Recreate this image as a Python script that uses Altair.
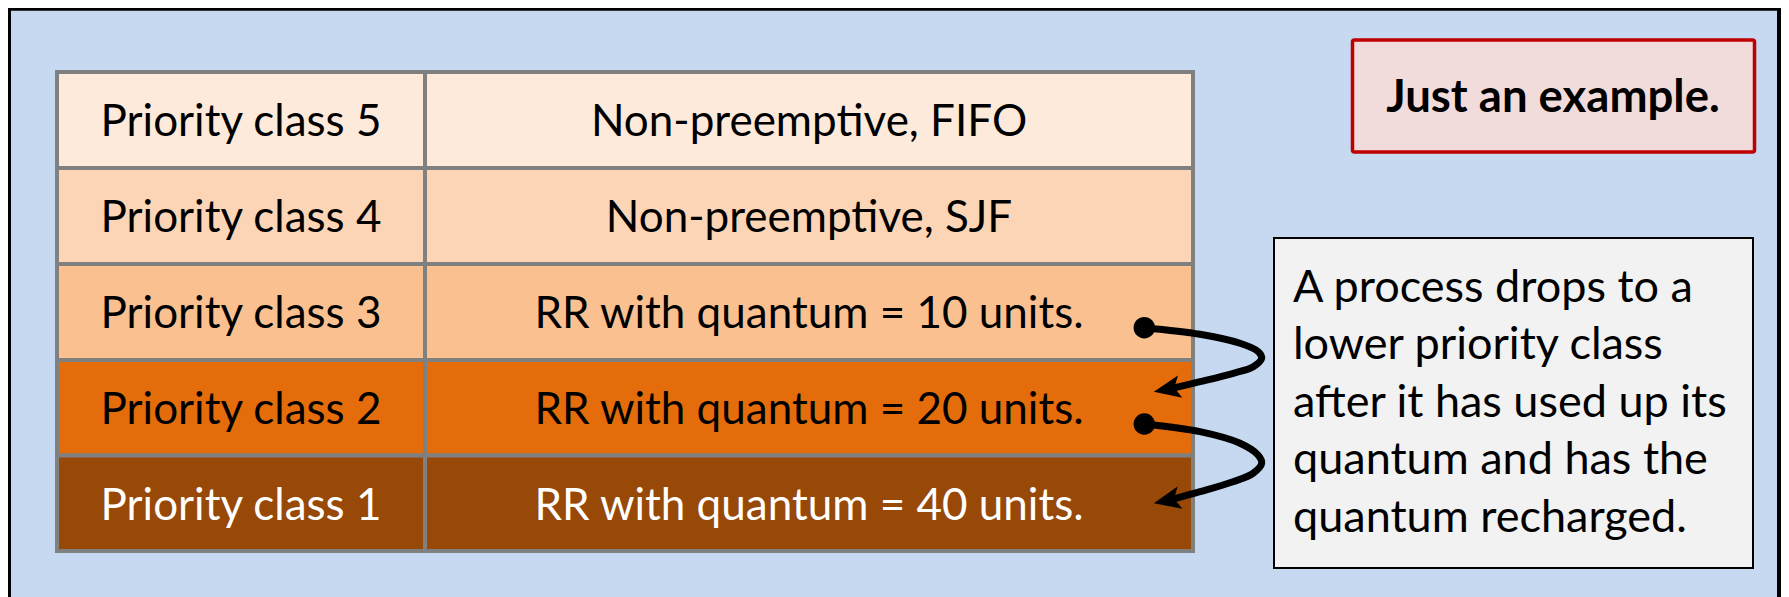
import altair as alt
import pandas as pd

# ---------------- content ----------------
classes = ["Priority class 5", "Priority class 4", "Priority class 3",
           "Priority class 2", "Priority class 1"]
policies = ["Non-preemptive, FIFO", "Non-preemptive, SJF",
            "RR with quantum = 10 units.", "RR with quantum = 20 units.",
            "RR with quantum = 40 units."]
row_fill = ["#FDEADA", "#FBD5B5", "#FAC090", "#E46C0A", "#984807"]
row_ink = ["#000000", "#000000", "#000000", "#000000", "#FFFFFF"]
note_lines = ["A process drops to a", "lower priority class",
              "after it has used up its", "quantum and has the",
              "quantum recharged."]
badge_text = ["Just an example."]

# ---------------- layout (page pixel coordinates) ----------------
row_edges = [72, 168, 264, 360, 455.5, 551]
col_edges = [57, 425, 1193]
row_baselines = [136, 232, 328, 424, 520]
note_baselines = [301.5, 359, 416.5, 474, 531.5]

arrow1_x = [1144.3, 1200, 1240, 1258.3, 1261.7, 1253.3, 1233.3, 1200, 1174]
arrow1_y = [327.7, 334.3, 343.3, 351.7, 358.3, 366.7, 373.3, 381.7, 387.8]
arrow2_x = [1144.3, 1200, 1240, 1258, 1261.7, 1253, 1233, 1200, 1174]
arrow2_y = [424.0, 431.7, 443.3, 455, 463.3, 473.3, 481.7, 491.7, 498.8]
head_x = [1167.0, 1166.9]
head_y = [389.2, 500.4]
head_angle = [349, 347.6]

W, H = 1773, 589
X = alt.Scale(domain=[8, 8 + W], nice=False, zero=False)
Y = alt.Scale(domain=[8, 8 + H], nice=False, zero=False, reverse=True)


def xq(f):
    return alt.X(f, type="quantitative", scale=X, axis=None)


def yq(f):
    return alt.Y(f, type="quantitative", scale=Y, axis=None)


# frame
frame = pd.DataFrame({"x": [9], "x2": [1779], "y": [8.7], "y2": [640]})
frame_l = alt.Chart(frame).mark_rect(
    fill="#C6D9F0", stroke="#000000", strokeWidth=4, clip=True
).encode(x=xq("x"), x2="x2", y=yq("y"), y2="y2")

# table cells
cells = []
for i in range(5):
    for j in range(2):
        cells.append({"x": col_edges[j], "x2": col_edges[j + 1],
                      "y": row_edges[i], "y2": row_edges[i + 1],
                      "fill": row_fill[i]})
cells = pd.DataFrame(cells)
cells_l = alt.Chart(cells).mark_rect(stroke="#808080", strokeWidth=4).encode(
    x=xq("x"), x2="x2", y=yq("y"), y2="y2",
    fill=alt.Fill("fill:N", scale=None))

# table texts
tt = []
for i in range(5):
    tt.append({"x": (col_edges[0] + col_edges[1]) / 2, "y": row_baselines[i],
               "t": classes[i], "c": row_ink[i]})
    tt.append({"x": (col_edges[1] + col_edges[2]) / 2, "y": row_baselines[i],
               "t": policies[i], "c": row_ink[i]})
tt = pd.DataFrame(tt)
text_l = alt.Chart(tt).mark_text(
    font="Lato", fontSize=44, align="center", baseline="alphabetic"
).encode(x=xq("x"), y=yq("y"), text="t:N", color=alt.Color("c:N", scale=None))

# badge
badge = pd.DataFrame({"x": [1352.5], "x2": [1754.5], "y": [40], "y2": [152],
                      "tx": [1553], "ty": [112], "t": badge_text})
badge_box = alt.Chart(badge).mark_rect(
    fill="#F2DCDB", stroke="#C00000", strokeWidth=3.5, cornerRadius=2
).encode(x=xq("x"), x2="x2", y=yq("y"), y2="y2")
badge_txt = alt.Chart(badge).mark_text(
    font="Lato", fontSize=45.5, fontWeight="bold", align="center",
    baseline="alphabetic", color="#000000"
).encode(x=xq("tx"), y=yq("ty"), text="t:N")

# note box
note_box_df = pd.DataFrame({"x": [1274], "x2": [1753], "y": [238], "y2": [568]})
note_box = alt.Chart(note_box_df).mark_rect(
    fill="#F2F2F2", stroke="#000000", strokeWidth=2
).encode(x=xq("x"), x2="x2", y=yq("y"), y2="y2")
note_df = pd.DataFrame({"x": [1293] * 5, "y": note_baselines, "t": note_lines})
note_txt = alt.Chart(note_df).mark_text(
    font="Lato", fontSize=45, align="left", baseline="alphabetic",
    color="#000000"
).encode(x=xq("x"), y=yq("y"), text="t:N")

# arrows
arr = pd.DataFrame({
    "x": arrow1_x + arrow2_x,
    "y": arrow1_y + arrow2_y,
    "k": list(range(len(arrow1_x))) + list(range(len(arrow2_x))),
    "a": ["a1"] * len(arrow1_x) + ["a2"] * len(arrow2_x),
})
lines_l = alt.Chart(arr).mark_line(
    color="#000000", strokeWidth=7, interpolate="catmull-rom",
    strokeCap="round"
).encode(x=xq("x"), y=yq("y"), order="k:Q", detail="a:N")

dots = pd.DataFrame({"x": [arrow1_x[0], arrow2_x[0]],
                     "y": [arrow1_y[0], arrow2_y[0]]})
dots_l = alt.Chart(dots).mark_point(
    shape="circle", filled=True, size=460, color="#000000", opacity=1,
    strokeWidth=0
).encode(x=xq("x"), y=yq("y"))

heads = pd.DataFrame({"x": head_x, "y": head_y, "ang": head_angle})
heads_l = alt.Chart(heads).mark_point(
    shape="M -1 0 L 1 -0.85 L 0.55 0 L 1 0.85 Z", filled=True, size=720,
    color="#000000", opacity=1, strokeWidth=0
).encode(x=xq("x"), y=yq("y"), angle=alt.Angle("ang:Q", scale=None))

chart = alt.layer(
    frame_l, cells_l, text_l, badge_box, badge_txt, note_box, note_txt,
    lines_l, dots_l, heads_l
).properties(
    width=W, height=H, padding=0, background="#FFFFFF",
    autosize=alt.AutoSizeParams(type="none")
).configure_view(strokeWidth=0)

chart.save("out.html", embed_options={"renderer": "svg", "actions": False})
